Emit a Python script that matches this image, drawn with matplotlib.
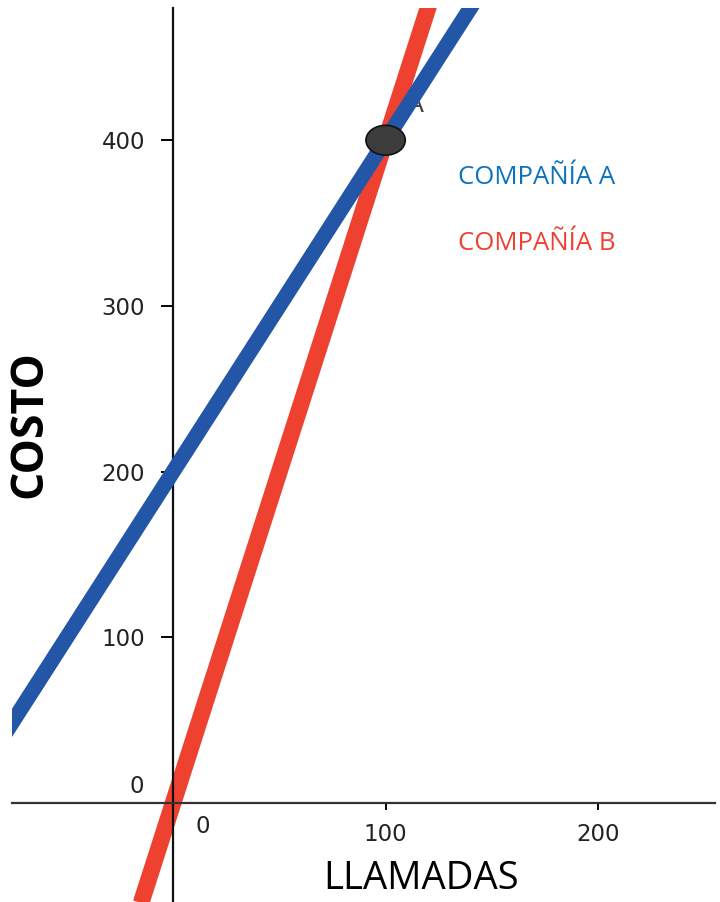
import matplotlib
matplotlib.use("Agg")
import matplotlib.pyplot as plt
from matplotlib.patches import Ellipse

# datos
llamadas = [-100, 0, 100, 300]
costo_a = [0, 200, 400, 800]      # compañía A
costo_b = [-400, 0, 400, 1200]    # compañía B
punto = (100, 400)                # intersección A

xticks = [100, 200]
yticks = [100, 200, 300, 400]

azul = "#2456a8"
rojo = "#ee4130"

fig = plt.figure(figsize=(7.2, 9.02), dpi=100)
ax = fig.add_axes([12 / 720, 0, 703 / 720, 894 / 902])

ax.plot(llamadas, costo_a, color=azul, lw=11, solid_capstyle="butt", zorder=3)
ax.plot(llamadas, costo_b, color=rojo, lw=12, solid_capstyle="butt", zorder=2)

# punto A
ax.text(110, 417, "A", fontsize=18, color="#444444", zorder=1)
ax.add_patch(Ellipse(punto, 18.5, 18, facecolor="#3c3c3c", edgecolor="#111111",
                     lw=1.2, zorder=5))

ax.set_xlim(-75.8, 255)
ax.set_ylim(-59.7, 479.8)

for s in ["top", "right"]:
    ax.spines[s].set_visible(False)
ax.spines["left"].set_position(("data", 0))
ax.spines["bottom"].set_position(("data", 0))
ax.spines["left"].set_linewidth(1.6)
ax.spines["bottom"].set_linewidth(1.6)
ax.spines["left"].set_color("#111111")
ax.spines["bottom"].set_color("#333333")

ax.set_xticks(xticks)
ax.set_yticks(yticks)
ax.tick_params(axis="y", direction="out", length=9, width=1.4, pad=11,
               labelsize=16.5, labelcolor="#222222")
ax.tick_params(axis="x", direction="out", length=5, width=1.4, pad=9,
               labelsize=16.5, labelcolor="#222222")

# los ceros, desplazados como en el original
ax.text(14, -14, "0", fontsize=16.5, color="#222222", ha="center", va="center")
ax.text(-17, 10, "0", fontsize=16.5, color="#222222", ha="center", va="center")

fig.text(30 / 720, 1 - 424 / 902, "COSTO", rotation=90, fontsize=32,
         fontweight="bold", family="Open Sans", ha="center", va="center")
fig.text(421 / 720, 1 - 879 / 902, "LLAMADAS", fontsize=27.5,
         family="Open Sans", ha="center", va="center")

fig.text(458 / 720, 1 - 178 / 902, "COMPAÑÍA A", fontsize=18.5, color="#0b72c0",
         family="Open Sans", ha="left", va="center")
fig.text(458 / 720, 1 - 243 / 902, "COMPAÑÍA B", fontsize=18.5, color="#ee4130",
         family="Open Sans", ha="left", va="center")

fig.savefig("out.png", dpi=100)
